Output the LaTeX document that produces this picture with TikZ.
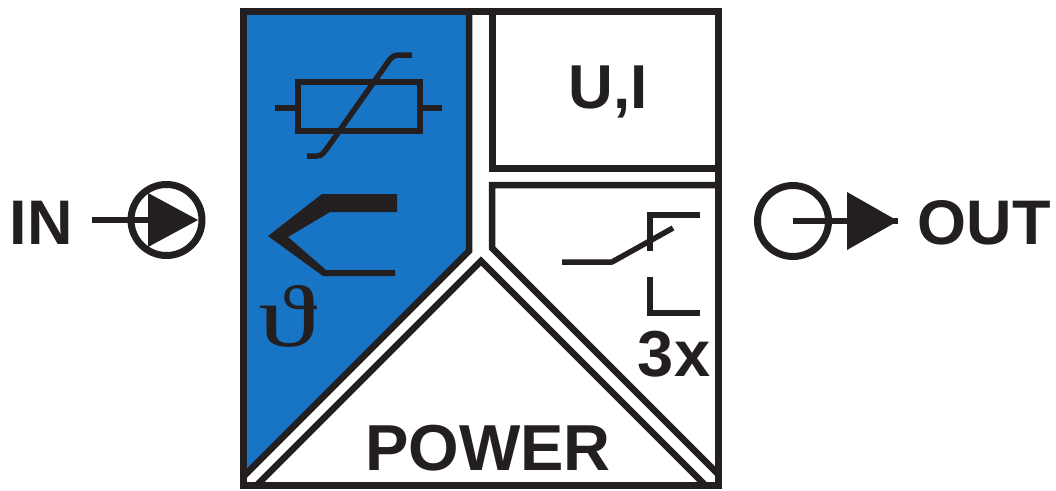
\documentclass[tikz,border=0pt]{standalone}
\usepackage{fontspec}
\setmainfont{Liberation Sans}
\newfontfamily\thetafont{Liberation Serif}
\definecolor{ink}{HTML}{231F20}
\definecolor{panel}{HTML}{1874C4}
\tikzset{
  frameline/.style={draw=ink,line width=7pt,line join=miter},
  diagline/.style={draw=ink,line width=6.5pt,line join=miter},
  thinline/.style={draw=ink,line width=5.5pt},
  label/.style={inner sep=0pt,anchor=base,text=ink,font=\fontsize{#1}{#1}\selectfont\bfseries},
  port/.style={circle,draw=ink,line width=7pt,inner sep=0pt,minimum size=71pt},
  inkfill/.style={fill=ink,draw=none}
}
\begin{document}
\begin{tikzpicture}[x=1pt,y=-1pt]
\useasboundingbox (0,0) rectangle (1056,490);
% blue panel
\fill[panel] (243,11) -- (469,11) -- (469,251) -- (243,477) -- cycle;
% panels
\draw[diagline,line cap=butt] (469,11) -- (469,251) -- (243,477);
\draw[frameline,line cap=butt] (492,11) -- (492,168) -- (718,168);
\draw[diagline,line cap=butt] (718,185) -- (492,185) -- (492,248) -- (718,474);
\draw[diagline] (257,485) -- (481,261) -- (705,485);
% frame
\draw[frameline] (243,485) -- (243,11) -- (718,11) -- (718,485) -- cycle;
% resistor
\draw[thinline] (298,82) rectangle (420,131);
\coordinate (rl) at (275,108); \coordinate (rla) at (298,108);
\coordinate (rr) at (442,108); \coordinate (rra) at (420,108);
\draw[thinline] (rl) -- (rla);
\draw[thinline] (rra) -- (rr);
\draw[thinline] (307,156) -- (317,156) .. controls (322,156) and (324,152) .. (328,147) -- (388,62) .. controls (392,56) and (395,55) .. (400,55) -- (412,55);
% thermocouple
\fill[ink] (397,194) -- (322,194) -- (268,236) -- (323,276) -- (395,276) -- (395,270) -- (326,270) -- (288,237) -- (330,212) -- (397,212) -- cycle;
% theta
\node[inner sep=0pt,text=ink,anchor=base,xscale=1.35,font=\thetafont\fontsize{88}{88}\selectfont] (theta) at (288,346) {ϑ};
% switch
\draw[thinline,line join=round] (562,262) -- (612,262) -- (673,228);
\draw[thinline] (700,215) -- (650,215) -- (650,251);
\draw[thinline] (650,277) -- (650,313) -- (700,313);
% text
\node[label=63] (in) at (41,244) {IN};
\node[label=63] (out) at (984,244) {OUT};
\node[label=62] (ui) at (608,108) {U,I};
\node[label=65] (power) at (488,470) {POWER};
\node[label=65] (x3) at (674,376) {3x};
% in port
\node[port] (incirc) at (166.5,220) {};
\coordinate (inlead) at (92,220);
\draw[ink,line width=6pt] (inlead) -- (incirc.center);
\fill[ink] (148,193) -- (198,220) -- (148,247) -- cycle;
% out port
\node[port] (outcirc) at (793,221) {};
\coordinate (outtip) at (898,221);
\draw[ink,line width=6pt] (outcirc.center) -- (outtip);
\fill[ink] (847,192) -- (898,221) -- (847,250) -- cycle;
\end{tikzpicture}
\end{document}
